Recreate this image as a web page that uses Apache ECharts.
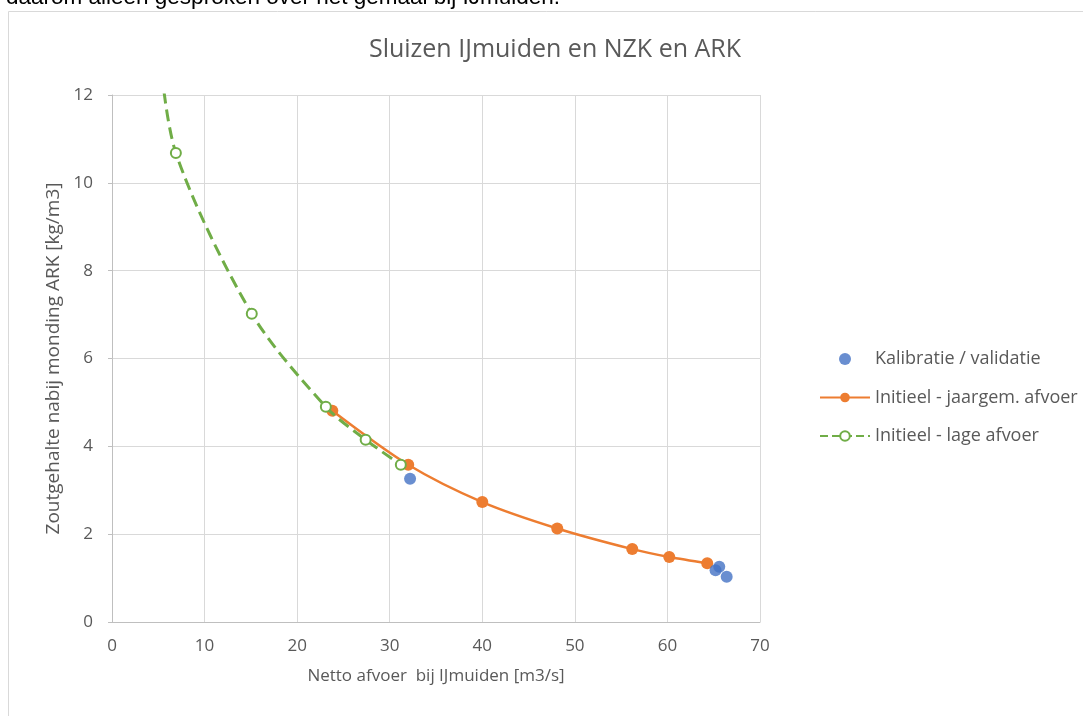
<!DOCTYPE html>
<html><head><meta charset="utf-8">
<script src="https://cdn.jsdelivr.net/npm/echarts@6/dist/echarts.min.js"></script>
<style>html,body{margin:0;padding:0;background:#fff}#c{width:1083px;height:716px}</style>
</head><body><div id="c"></div>
<script>
const titleText = 'Sluizen IJmuiden en NZK en ARK';
const xName = 'Netto afvoer  bij IJmuiden [m3/s]';
const yName = 'Zoutgehalte nabij monding ARK [kg/m3]';
const kalibratie = [[32.2, 3.26], [65.2, 1.18], [65.6, 1.26], [66.4, 1.03]];
const jaargem = [[23.8, 4.81], [32.0, 3.58], [40.0, 2.73], [48.1, 2.13], [56.2, 1.66], [60.2, 1.48], [64.3, 1.34]];
const lage = [[5.0, 13.3], [6.9, 10.68], [15.1, 7.02], [23.1, 4.90], [27.4, 4.15], [31.2, 3.58]];
const seriesNames = ['Kalibratie / validatie', 'Initieel - jaargem. afvoer', 'Initieel - lage afvoer'];

const chart = echarts.init(document.getElementById('c'));
const font = '"Open Sans", "Noto Sans", sans-serif';
chart.setOption({
  animation: false,
  graphic: [
    {type: 'rect', shape: {x: 8.5, y: 11.5, width: 1100, height: 800}, style: {fill: 'none', stroke: '#d9d9d9', lineWidth: 1}},
    {type: 'text', left: 6, top: -14, style: {text: 'daarom alleen gesproken over het gemaal bij IJmuiden.', font: '22.5px "Liberation Sans", Arial, sans-serif', fill: '#000'}}
  ],
  title: {text: titleText, left: 550, top: 32, textAlign: 'center',
    textStyle: {color: '#595959', fontSize: 25, fontWeight: 'normal', fontFamily: font}},
  legend: {
    orient: 'vertical', left: 814, top: 345, itemGap: 20.5, itemWidth: 50, itemHeight: 12,
    data: seriesNames,
    textStyle: {color: '#595959', fontSize: 18, fontFamily: font}
  },
  grid: {left: 112, right: 323, top: 95, bottom: 94, containLabel: false},
  xAxis: {
    type: 'value', min: 0, max: 70, interval: 10,
    name: xName, nameLocation: 'middle', nameGap: 46,
    nameTextStyle: {color: '#595959', fontSize: 17, fontFamily: font},
    axisLine: {show: true, lineStyle: {color: '#bfbfbf'}},
    axisTick: {show: false},
    axisLabel: {color: '#595959', fontSize: 17, fontFamily: font, margin: 16},
    splitLine: {show: true, lineStyle: {color: '#d9d9d9', width: 1}}
  },
  yAxis: {
    type: 'value', min: 0, max: 12, interval: 2,
    name: yName, nameLocation: 'middle', nameGap: 46, nameRotate: 90,
    nameTextStyle: {color: '#595959', fontSize: 19, fontFamily: font},
    axisLine: {show: true, lineStyle: {color: '#bfbfbf'}},
    axisTick: {show: true, length: 4, lineStyle: {color: '#bfbfbf'}},
    axisLabel: {color: '#595959', fontSize: 17, fontFamily: font, margin: 19},
    splitLine: {show: true, lineStyle: {color: '#d9d9d9', width: 1}}
  },
  series: [
    {name: seriesNames[0], type: 'scatter', data: kalibratie, symbol: 'circle', symbolSize: 12,
      itemStyle: {color: '#4472c4'}, z: 5},
    {name: seriesNames[1], type: 'line', data: jaargem, smooth: 0.3, symbol: 'circle', symbolSize: 12,
      itemStyle: {color: '#ed7d31'}, lineStyle: {color: '#ed7d31', width: 2.5}, z: 3},
    {name: seriesNames[2], type: 'line', data: lage, smooth: 0.3, symbol: 'emptyCircle', symbolSize: 10,
      clip: true,
      itemStyle: {color: '#70ad47', borderColor: '#70ad47', borderWidth: 1.5},
      lineStyle: {color: '#70ad47', width: 3, type: 'dashed'}, z: 4}
  ]
});
</script></body></html>
